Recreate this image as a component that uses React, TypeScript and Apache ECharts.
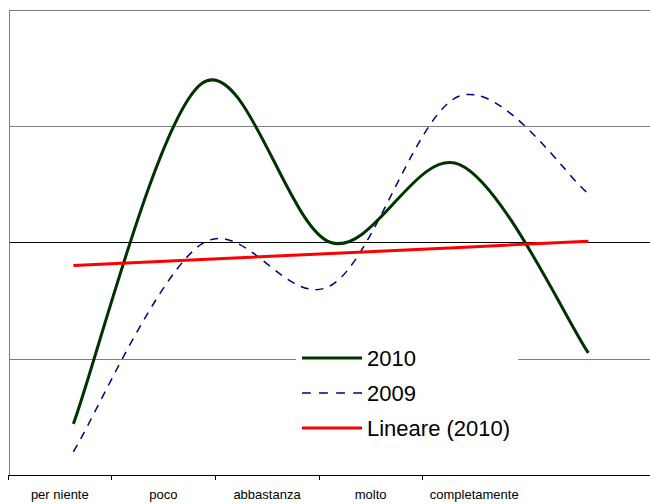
import React, { useEffect, useRef } from "react";
import * as echarts from "echarts";

const categories = ["per niente", "poco", "abbastanza", "molto", "completamente"];
const labelCategories = ["per niente", "poco", "abbastanza", "molto", "completamente", "", ""];
const series2010 = [4.4, 33.7, 20.0, 26.7, 10.5];
const series2009 = [2.0, 19.9, 16.3, 32.6, 24.2];
const yTicks = [0, 10, 20, 30, 40];

function linearTrend(values: number[]): number[] {
  const n = values.length;
  const xs = values.map((_, i) => i + 1);
  const mx = xs.reduce((a, b) => a + b, 0) / n;
  const my = values.reduce((a, b) => a + b, 0) / n;
  let num = 0;
  let den = 0;
  xs.forEach((x, i) => {
    num += (x - mx) * (values[i] - my);
    den += (x - mx) * (x - mx);
  });
  const slope = num / den;
  return xs.map((x) => +(my + slope * (x - mx)).toFixed(3));
}

const trend2010 = linearTrend(series2010);

// Smooth (Catmull-Rom style, as spreadsheet "smoothed line") through the
// data points, which are placed by the chart's own axes via api.coord.
function makeSmoothRender(values: number[], color: string, width: number, dash?: number[]) {
  return (params: any, api: any) => {
    if (params.dataIndex !== 0) return { type: "group", children: [] };
    const pts = values.map((v, i) => api.coord([i, v]));
    const n = pts.length;
    const P = (i: number) => pts[Math.max(0, Math.min(n - 1, i))];
    let d = `M${pts[0][0]},${pts[0][1]}`;
    for (let i = 0; i < n - 1; i++) {
      const p0 = P(i - 1);
      const p1 = P(i);
      const p2 = P(i + 1);
      const p3 = P(i + 2);
      const c1x = p1[0] + (p2[0] - p0[0]) / 6;
      const c1y = p1[1] + (p2[1] - p0[1]) / 6;
      const c2x = p2[0] - (p3[0] - p1[0]) / 6;
      const c2y = p2[1] - (p3[1] - p1[1]) / 6;
      d += ` C${c1x},${c1y} ${c2x},${c2y} ${p2[0]},${p2[1]}`;
    }
    return {
      type: "path",
      shape: { pathData: d },
      style: {
        stroke: color,
        fill: "none",
        lineWidth: width,
        lineDash: dash || null,
        lineCap: "butt",
        lineJoin: "round",
      },
    };
  };
}

export default function App() {
  const ref = useRef<HTMLDivElement>(null);
  useEffect(() => {
    if (!ref.current) return;
    const chart = echarts.init(ref.current, null, { renderer: "svg" });
    const font = "Liberation Sans, Arial, sans-serif";
    const green = "#003300";
    const navy = "#000080";
    const red = "#ff0000";
    chart.setOption({
      animation: false,
      backgroundColor: "#ffffff",
      textStyle: { fontFamily: font },
      grid: [
        { left: 9, top: 10, width: 643.75, height: 465, containLabel: false, outerBoundsMode: "none" },
        { left: 8, top: 10, width: 7 * 103.6, height: 465, containLabel: false, outerBoundsMode: "none" },
      ],
      legend: {
        orient: "vertical",
        left: 296,
        top: 342,
        padding: [5, 8, 6, 6],
        backgroundColor: "#ffffff",
        itemWidth: 60,
        itemHeight: 14,
        itemGap: 13,
        symbolKeepAspect: true,
        textStyle: { fontSize: 22, color: "#000", fontFamily: font },
        data: [
          { name: "2010", icon: "path://M0,0H60V3H0Z", itemStyle: { color: green } },
          {
            name: "2009",
            icon: "path://M0,0H8.5V1.6H0Z M16.5,0H25V1.6H16.5Z M33,0H41.5V1.6H33Z M49.5,0H58V1.6H49.5Z",
            itemStyle: { color: navy },
          },
          { name: "Lineare (2010)", icon: "path://M0,0H60V3H0Z", itemStyle: { color: red } },
        ],
      },
      xAxis: [
        {
          type: "category",
          gridIndex: 0,
          data: categories,
          boundaryGap: true,
          axisLine: { show: true, lineStyle: { color: "#000", width: 1 } },
          axisTick: { show: false },
          axisLabel: { show: false },
          splitLine: { show: false },
        },
        {
          type: "category",
          gridIndex: 1,
          data: labelCategories,
          boundaryGap: true,
          axisLine: { show: false },
          axisTick: {
            show: true,
            length: 5,
            interval: (index: number) => index < 5,
            lineStyle: { color: "#000", width: 1 },
          },
          axisLabel: {
            show: true,
            interval: 0,
            fontSize: 13,
            color: "#000",
            margin: 13,
            fontFamily: font,
          },
          splitLine: { show: false },
        },
      ],
      yAxis: [
        {
          type: "value",
          gridIndex: 0,
          min: yTicks[0],
          max: yTicks[yTicks.length - 1],
          interval: 10,
          axisLine: { show: true, lineStyle: { color: "#808080", width: 1 } },
          axisTick: { show: false },
          axisLabel: { show: false },
          splitLine: {
            show: true,
            lineStyle: {
              color: ["#000000", "#808080", "#000000", "#808080", "#808080"],
              width: 1,
            },
          },
        },
        {
          type: "value",
          gridIndex: 1,
          show: false,
          min: 0,
          max: 40,
        },
      ],
      series: [
        {
          name: "2010",
          type: "custom",
          xAxisIndex: 0,
          yAxisIndex: 0,
          data: series2010.map((v, i) => [i, v]),
          itemStyle: { color: green },
          renderItem: makeSmoothRender(series2010, green, 3),
          z: 3,
        },
        {
          name: "2009",
          type: "custom",
          xAxisIndex: 0,
          yAxisIndex: 0,
          data: series2009.map((v, i) => [i, v]),
          itemStyle: { color: navy },
          renderItem: makeSmoothRender(series2009, navy, 1.5, [8, 7]),
          z: 2,
        },
        {
          name: "Lineare (2010)",
          type: "line",
          xAxisIndex: 0,
          yAxisIndex: 0,
          data: trend2010,
          symbol: "none",
          showSymbol: false,
          lineStyle: { color: red, width: 3 },
          itemStyle: { color: red },
          z: 4,
        },
      ],
    });
    return () => chart.dispose();
  }, []);
  return <div ref={ref} style={{ width: 650, height: 504, position: "absolute", left: 0, top: 0 }} />;
}
